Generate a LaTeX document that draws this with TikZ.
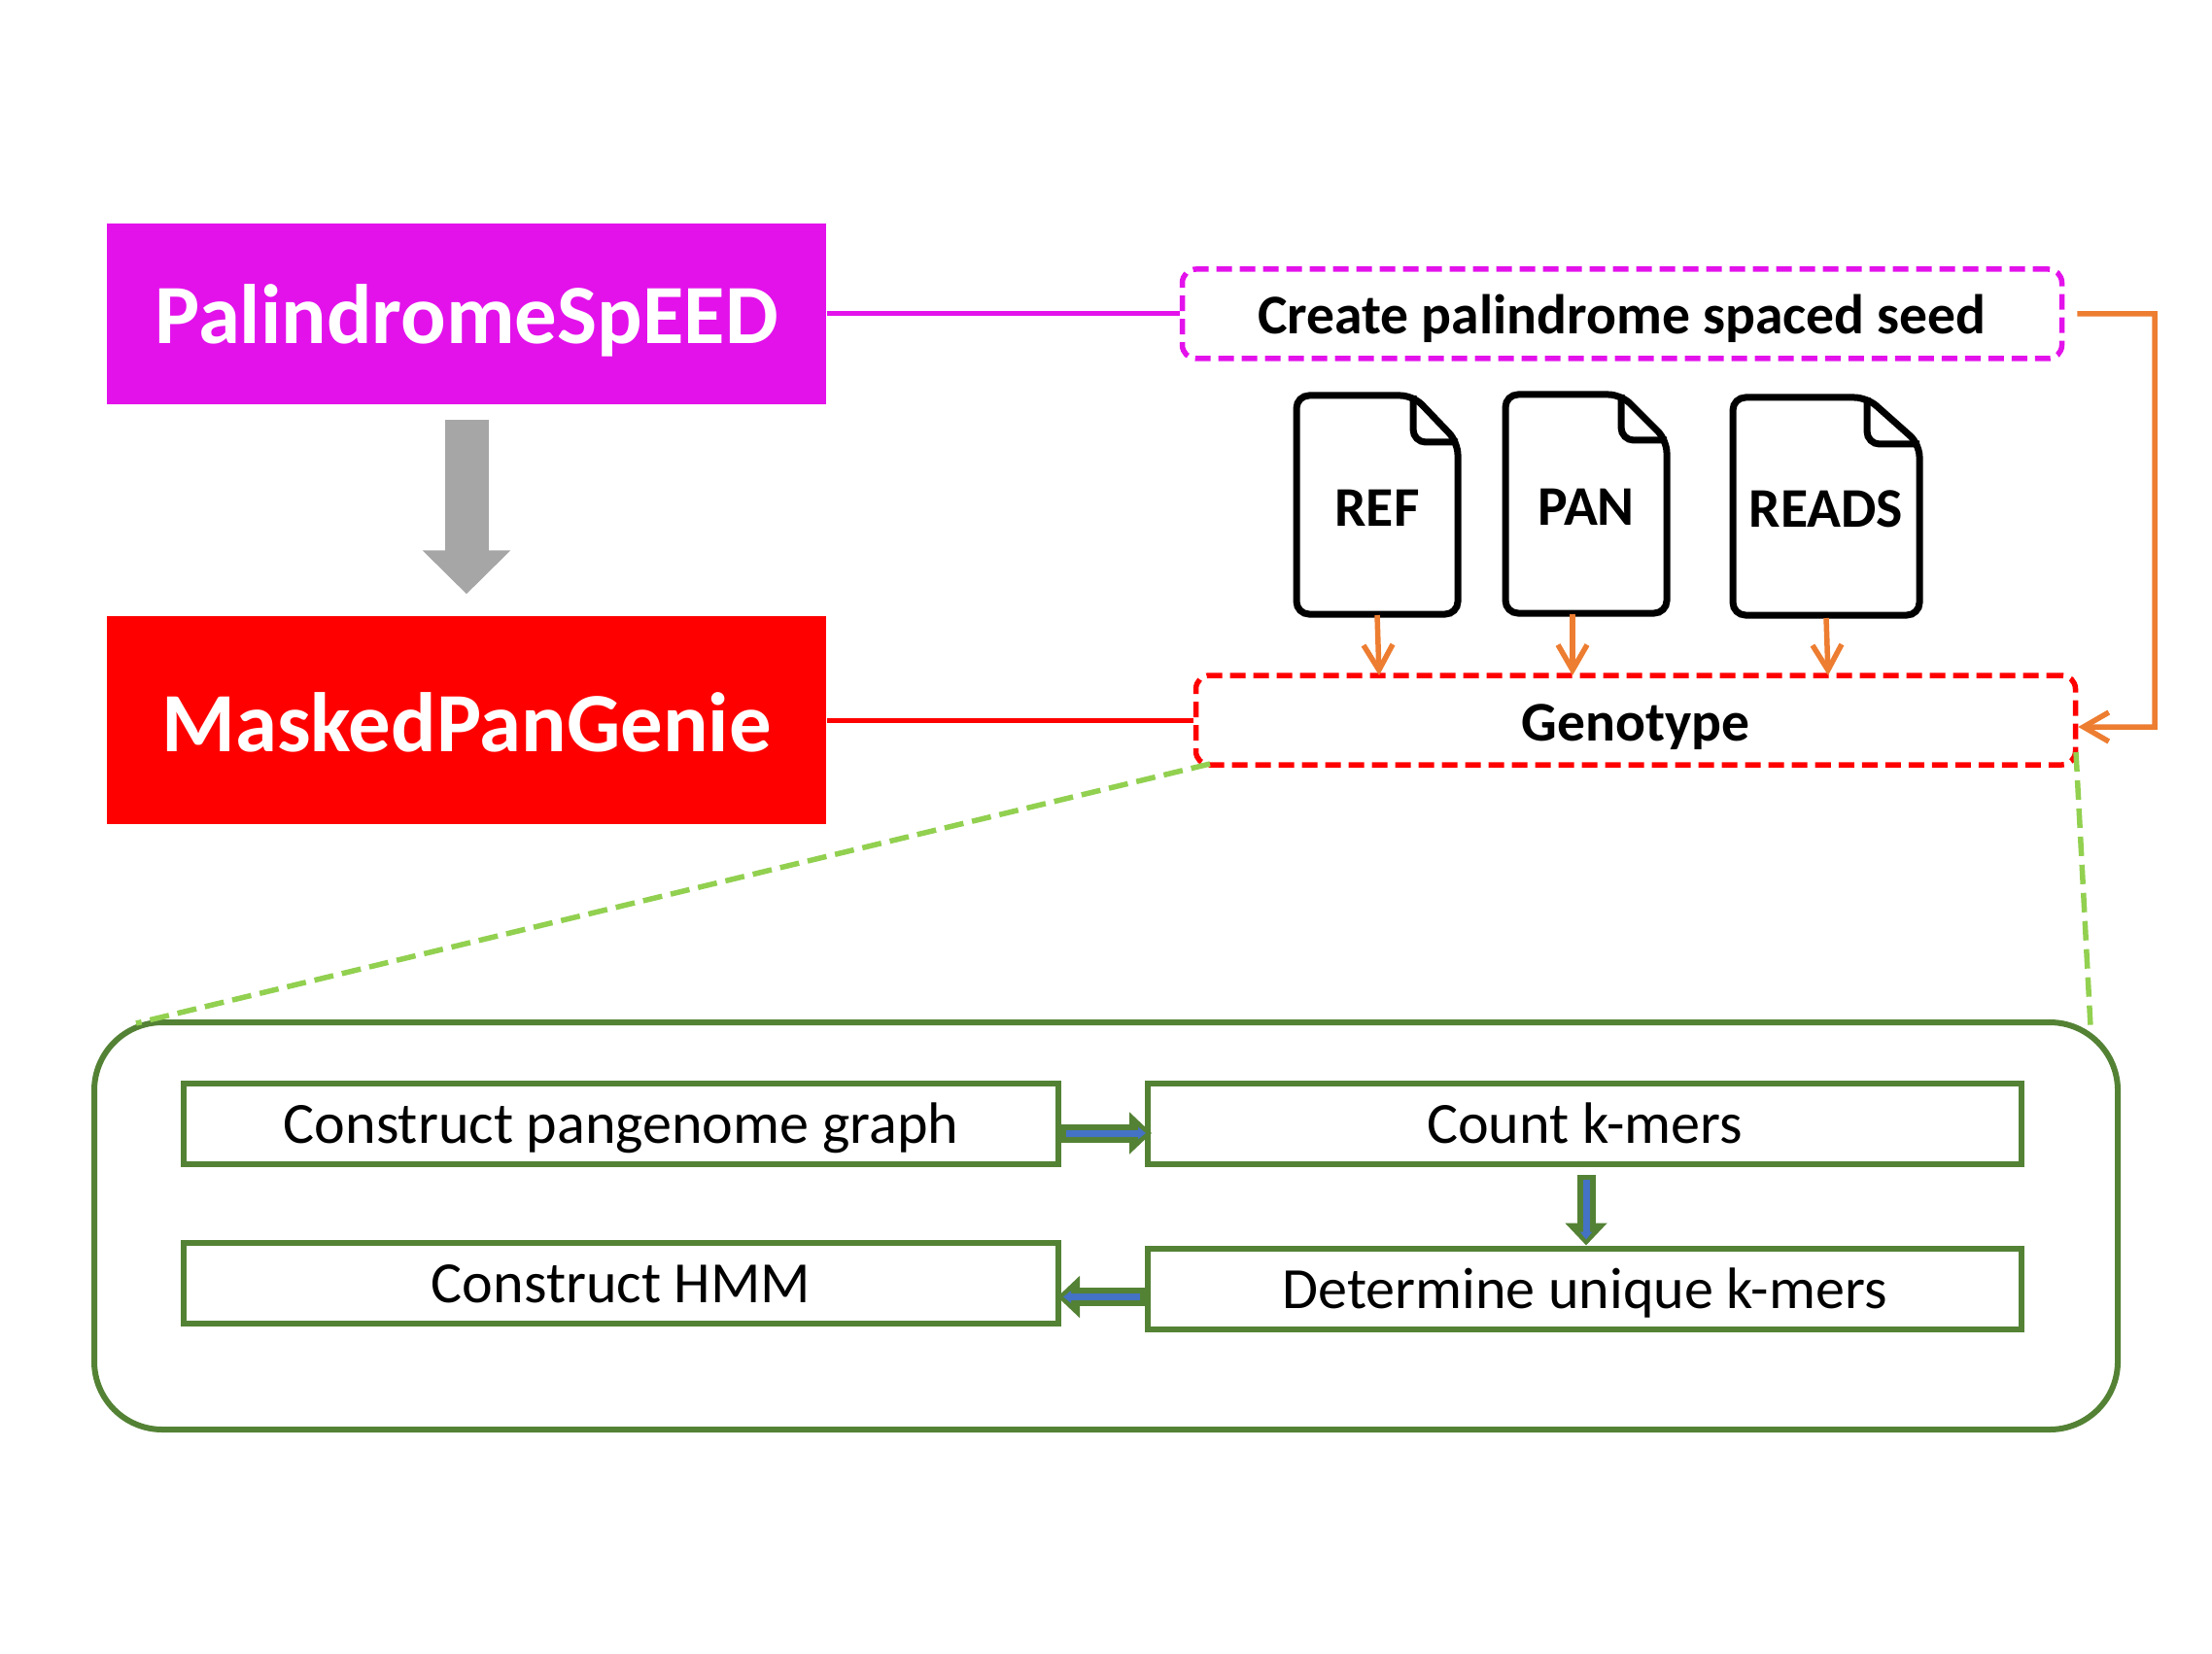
\documentclass[tikz,border=0pt]{standalone}
\usepackage{fontspec}
\setmainfont{Carlito}
\usepackage{tikz}
\usetikzlibrary{arrows.meta}

\definecolor{palincolor}{RGB}{227,18,235}
\definecolor{flowgreen}{RGB}{84,130,53}
\definecolor{flowblue}{RGB}{68,114,196}
\definecolor{zoomgreen}{RGB}{146,208,80}
\definecolor{feedorange}{RGB}{237,125,49}
\definecolor{arrowgrey}{RGB}{166,166,166}

\tikzset{
    toolbox/.style={inner sep=0pt, text=white, font=\fontsize{24.7}{30}\selectfont\bfseries, minimum width=7.40cm, text height=0.71cm, text depth=0.10cm},
    stagebox/.style={inner sep=0pt, rounded corners=0.14cm, line width=0.055cm, dash pattern=on 0.16cm off 0.08cm, font=\fontsize{16.4}{20}\selectfont\bfseries, minimum height=0.92cm, text height=0.52cm, text depth=0.10cm},
    stepbox/.style={draw=flowgreen, inner sep=0pt, line width=0.06cm, minimum height=0.83cm, font=\fontsize{17.1}{21}\selectfont, text height=0.50cm, text depth=0.10cm},
    filenode/.style={inner sep=0pt, font=\fontsize{16.4}{20}\selectfont\bfseries},
    fileline/.style={draw=black, line width=0.07cm, rounded corners=0.13cm},
    feedline/.style={draw=feedorange, line width=0.055cm},
    feedarrow/.style={feedline, -{Straight Barb[length=0.26cm,width=0.30cm]}},
    zoomline/.style={draw=zoomgreen, line width=0.055cm, dash pattern=on 0.20cm off 0.09cm},
    flowouter/.style={draw=flowgreen, line width=0.19cm, -{Triangle[length=0.23cm,width=0.42cm]}},
    flowinner/.style={draw=flowblue, line width=0.07cm, shorten >=0.06cm, shorten <=0.05cm, -{Triangle[length=0.08cm,width=0.12cm]}}
}

\newcommand{\flowarrow}[2]{
    \draw[flowouter] #1 -- #2;
    \draw[flowinner] #1 -- #2;
}

\begin{document}
\begin{tikzpicture}
    \useasboundingbox (0,0) rectangle (22.76,-17.01);

    % left column
    \node[toolbox, fill=palincolor, minimum height=1.86cm] (palin) at (4.80,-3.23) {PalindromeSpEED};
    \node[toolbox, fill=red, minimum height=2.14cm, text height=0.75cm] (masked) at (4.80,-7.41) {MaskedPanGenie};
    \draw[draw=arrowgrey, line width=0.45cm, -{Triangle[length=0.45cm,width=0.88cm]}] ([yshift=-0.15cm]palin.south) -- ([yshift=0.22cm]masked.north);

    % right column
    \node[stagebox, draw=palincolor, minimum width=9.05cm] (seed) at (16.69,-3.23) {Create palindrome spaced seed};
    \node[stagebox, draw=red, minimum width=9.05cm] (genotype) at (16.83,-7.41) {Genotype};
    \draw[palincolor, line width=0.05cm] (palin.east |- seed.west) -- (seed.west);
    \draw[red, line width=0.05cm] (masked.east |- genotype.west) -- (genotype.west);

    % files
    \foreach \name/\xa/\ya/\xb/\yb/\xf/\yf/\txt in {
        ref/13.34/4.07/15.00/6.32/14.54/4.55/REF,
        pan/15.49/4.06/17.15/6.31/16.68/4.53/PAN,
        reads/17.83/4.09/19.75/6.33/19.21/4.57/READS}{
        \draw[fileline] (\xf,-\ya) -- (\xa,-\ya) -- (\xa,-\yb) -- (\xb,-\yb) -- (\xb,-\yf) -- cycle;
        \draw[fileline] (\xf,-\ya) -- (\xf,-\yf) -- (\xb,-\yf);
        \node[filenode] (\name) at ({(\xa+\xb)/2},{-(\ya+\yb)/2-0.03}) {\txt};
    }

    \coordinate (refend) at (14.19,-6.95);
    \coordinate (panend) at (16.18,-6.95);
    \coordinate (readsend) at (18.81,-6.95);
    \draw[feedarrow] (14.17,-6.33) -- (refend);
    \draw[feedarrow] (16.18,-6.32) -- (panend);
    \draw[feedarrow] (18.79,-6.36) -- (readsend);
    \coordinate (feedcorner) at (22.17,-7.48);
    \draw[feedarrow] ([xshift=0.13cm]seed.east) -| (feedcorner) -- ([yshift=-0.07cm]genotype.east);

    % zoom into the genotype step
    \node[draw=flowgreen, line width=0.06cm, rounded corners=0.70cm, minimum width=20.82cm, minimum height=4.19cm, inner sep=0pt] (panel) at (11.38,-12.615) {};
    \coordinate (zoomleft) at (1.40,-10.53);
    \coordinate (zoomright) at (21.51,-10.57);
    \draw[zoomline] (12.45,-7.86) -- (zoomleft);
    \draw[zoomline] (21.36,-7.74) -- (zoomright);

    % steps
    \node[stepbox, minimum width=9.00cm] (graph) at (6.39,-11.56) {Construct pangenome graph};
    \node[stepbox, minimum width=8.99cm] (count) at (16.305,-11.56) {Count k-mers};
    \node[stepbox, minimum width=8.99cm] (unique) at (16.305,-13.26) {Determine unique k-mers};
    \node[stepbox, minimum width=9.00cm] (hmm) at (6.39,-13.20) {Construct HMM};

    \flowarrow{([yshift=-0.10cm]graph.east)}{([xshift=0.07cm,yshift=-0.10cm]count.west)}
    \flowarrow{([xshift=0.015cm,yshift=-0.08cm]count.south)}{([xshift=0.015cm]unique.north)}
    \flowarrow{([yshift=-0.085cm]unique.west)}{([xshift=-0.04cm,yshift=-0.145cm]hmm.east)}
\end{tikzpicture}
\end{document}
